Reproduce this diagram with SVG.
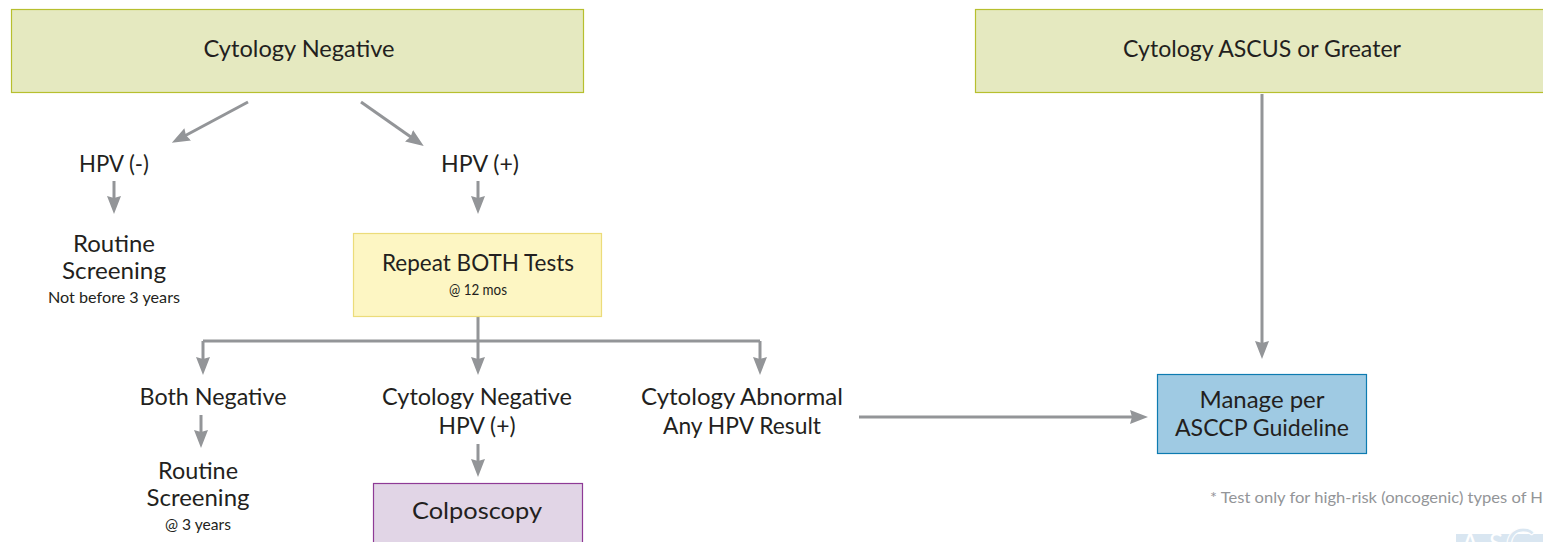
<svg xmlns="http://www.w3.org/2000/svg" width="1543" height="542" viewBox="0 0 1543 542">
<style>
text{font-family:Lato,"Open Sans","Liberation Sans",sans-serif;fill:#231f20;text-anchor:middle;font-size:24px}
.s{font-size:15px}
.n{fill:#939598;font-size:16px;text-anchor:start}
.l{font-size:26px;fill:#fff}
.b{stroke-width:1.2}
.c{fill:none;stroke:#939598;stroke-width:3}
</style>
<defs>
<marker id="a" markerUnits="userSpaceOnUse" markerWidth="18" markerHeight="16" refX="11" refY="8" orient="auto" viewBox="0 0 18 16"><path d="M0 1L18 8L0 15L2 8Z" fill="#939598"/></marker>
</defs>
<rect width="1543" height="542" fill="#fff"/>
<g id="logo"><rect x="1456" y="534" width="87" height="8" fill="#d9e6f1"/><text class="l" x="1470" y="553">A</text><text class="l" x="1496" y="553">S</text><text x="1520" y="561" style="font-size:46px;fill:#d9e6f1;stroke:#fff;stroke-width:1">C</text></g>
<g id="connectors">
<path class="c" marker-end="url(#a)" d="M248 102L178 139.500"/>
<path class="c" marker-end="url(#a)" d="M361 102L418 142"/>
<path class="c" marker-end="url(#a)" d="M114 181V207"/>
<path class="c" marker-end="url(#a)" d="M478 181V207"/>
<path class="c" d="M478 316V341M203 341H760"/>
<path class="c" marker-end="url(#a)" d="M203 341V368"/>
<path class="c" marker-end="url(#a)" d="M478 341V368"/>
<path class="c" marker-end="url(#a)" d="M760 341V368"/>
<path class="c" marker-end="url(#a)" d="M201 415V441"/>
<path class="c" marker-end="url(#a)" d="M478 444V470"/>
<path class="c" marker-end="url(#a)" d="M859 417H1141"/>
<path class="c" marker-end="url(#a)" d="M1262 94V352"/>
</g>
<g id="cytology-negative"><rect class="b" x="11.500" y="9.500" width="572" height="83" fill="#e5e9c0" stroke="#b7bf2e"/><text x="299" y="57" textLength="191" lengthAdjust="spacingAndGlyphs">Cytology Negative</text></g>
<g id="cytology-ascus"><rect class="b" x="975.500" y="9.500" width="580" height="83" fill="#e5e9c0" stroke="#b7bf2e"/><text x="1262" y="57" textLength="278" lengthAdjust="spacingAndGlyphs">Cytology ASCUS or Greater</text></g>
<g id="hpv-neg"><text x="114" y="172" textLength="70" lengthAdjust="spacingAndGlyphs">HPV (-)</text></g>
<g id="hpv-pos"><text x="480" y="172" textLength="78" lengthAdjust="spacingAndGlyphs">HPV (+)</text></g>
<g id="routine-1"><text x="114" y="252" textLength="82" lengthAdjust="spacingAndGlyphs">Routine</text><text x="114" y="279" textLength="104" lengthAdjust="spacingAndGlyphs">Screening</text><text class="s" x="114" y="303" textLength="132" lengthAdjust="spacingAndGlyphs">Not before 3 years</text></g>
<g id="repeat"><rect class="b" x="353.500" y="233.500" width="248" height="83" fill="#fdf6c3" stroke="#ecdc7a"/><text x="478" y="271" textLength="192" lengthAdjust="spacingAndGlyphs">Repeat BOTH Tests</text><text class="s" x="478" y="295" textLength="58" lengthAdjust="spacingAndGlyphs">@ 12 mos</text></g>
<g id="both-negative"><text x="213" y="405" textLength="147" lengthAdjust="spacingAndGlyphs">Both Negative</text></g>
<g id="cyto-neg-hpv"><text x="477" y="405" textLength="190" lengthAdjust="spacingAndGlyphs">Cytology Negative</text><text x="477" y="434" textLength="77" lengthAdjust="spacingAndGlyphs">HPV (+)</text></g>
<g id="cyto-abnormal"><text x="742" y="405" textLength="202" lengthAdjust="spacingAndGlyphs">Cytology Abnormal</text><text x="742" y="434" textLength="158" lengthAdjust="spacingAndGlyphs">Any HPV Result</text></g>
<g id="routine-2"><text x="198" y="479" textLength="80" lengthAdjust="spacingAndGlyphs">Routine</text><text x="198" y="506" textLength="103" lengthAdjust="spacingAndGlyphs">Screening</text><text class="s" x="198" y="530" textLength="66" lengthAdjust="spacingAndGlyphs">@ 3 years</text></g>
<g id="colposcopy"><rect class="b" x="373.500" y="483.500" width="209" height="80" fill="#e1d5e6" stroke="#8e3a96"/><text x="477" y="519" textLength="130" lengthAdjust="spacingAndGlyphs">Colposcopy</text></g>
<g id="manage"><rect class="b" x="1157.500" y="374.500" width="209" height="79" fill="#9fcae3" stroke="#0d7bb1"/><text x="1262" y="408" textLength="125" lengthAdjust="spacingAndGlyphs">Manage per</text><text x="1262" y="436" textLength="174" lengthAdjust="spacingAndGlyphs">ASCCP Guideline</text></g>
<g id="footnote"><text class="n" x="1210" y="503" textLength="333" lengthAdjust="spacingAndGlyphs">* Test only for high-risk (oncogenic) types of H</text></g>
</svg>
